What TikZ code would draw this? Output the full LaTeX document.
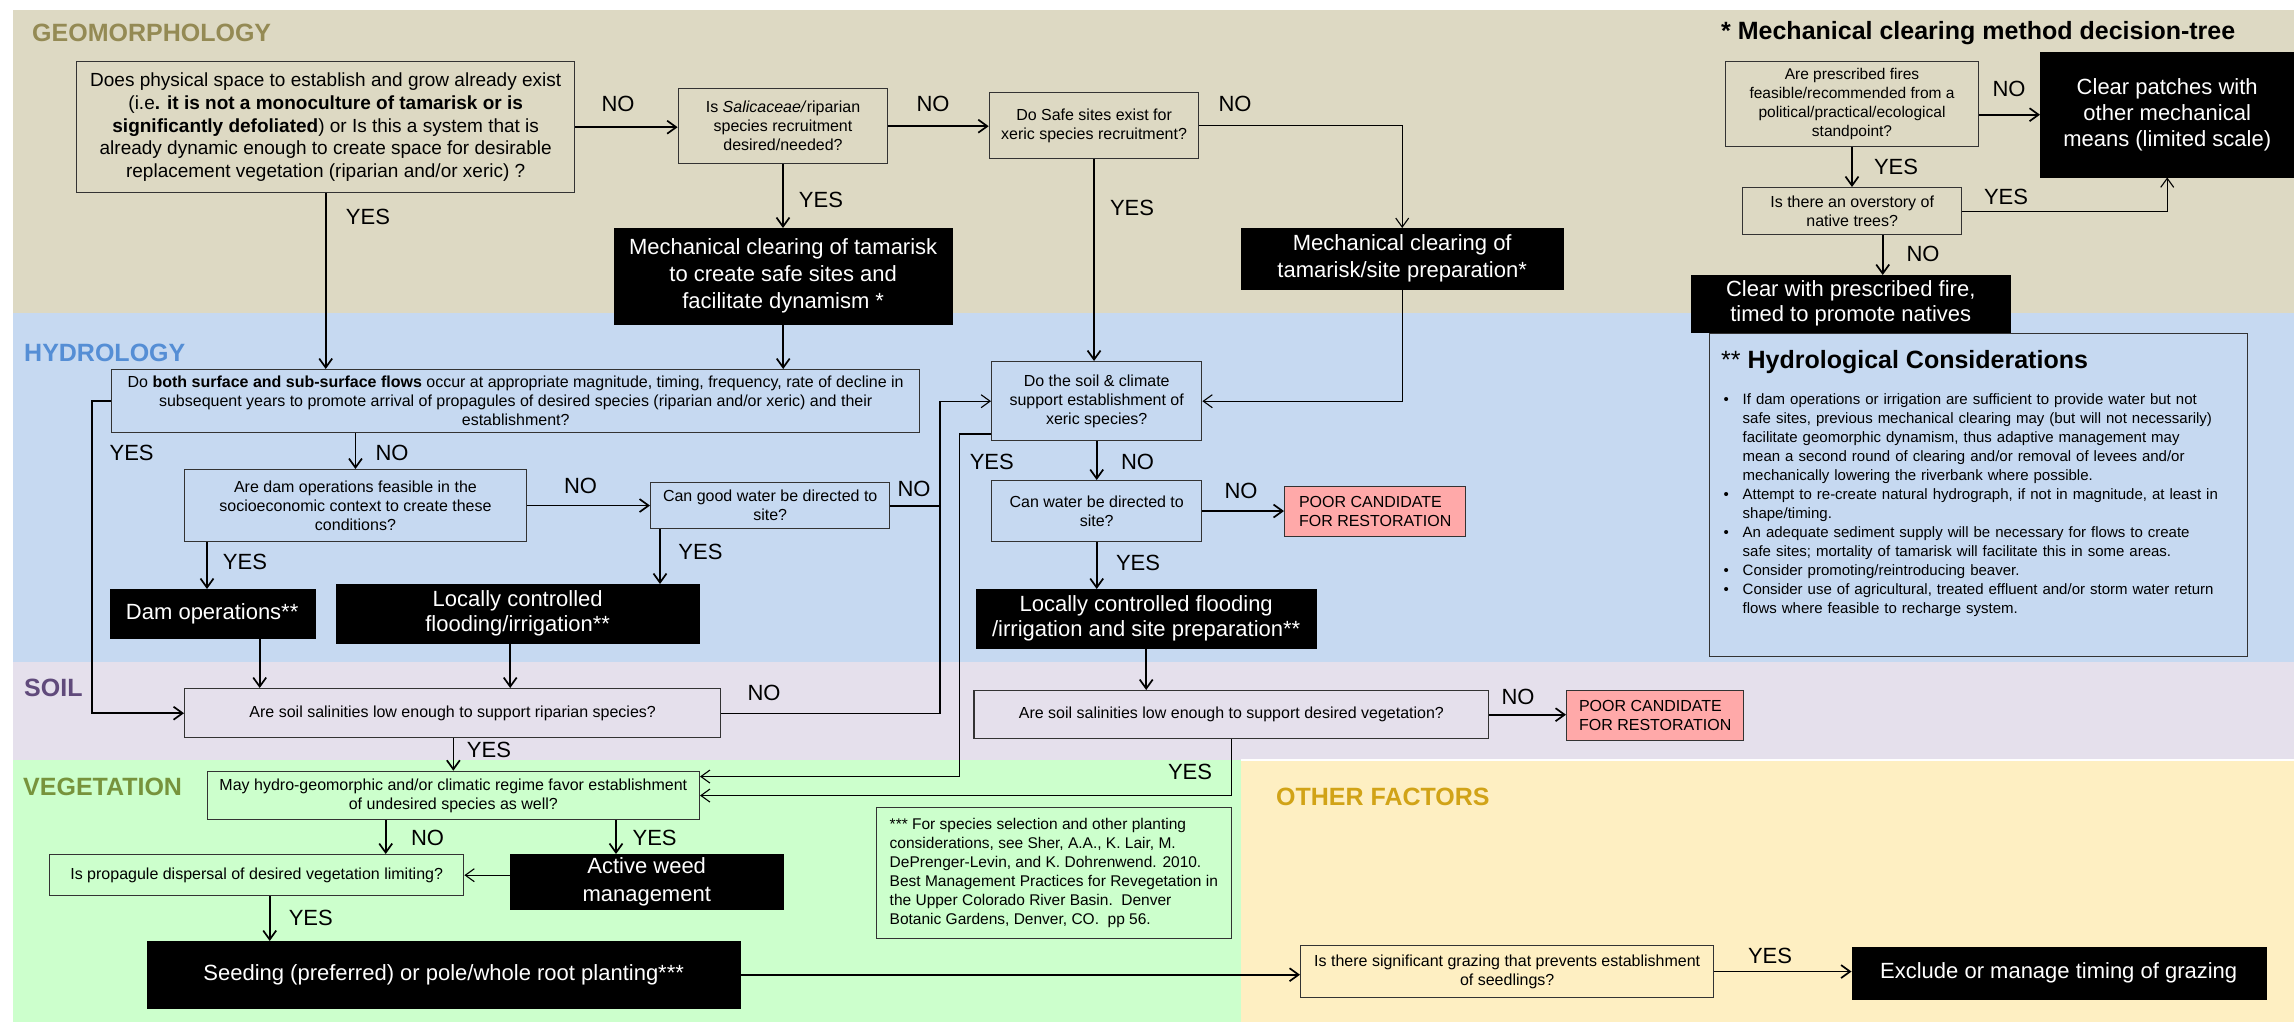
\documentclass[tikz,border=0pt]{standalone}
\usepackage{fontspec}
\setmainfont{Liberation Sans}
\usetikzlibrary{arrows.meta,calc}
\newcommand\fsz[2]{\fontsize{#1}{#2}\selectfont}
\definecolor{geoc}{HTML}{DDD9C3}
\definecolor{hydc}{HTML}{C6D9F1}
\definecolor{soilc}{HTML}{E5E0EC}
\definecolor{vegc}{HTML}{CCFFCC}
\definecolor{othc}{HTML}{FEEFC2}
\definecolor{pinkc}{HTML}{FFA9A9}
\definecolor{geot}{HTML}{948A54}
\definecolor{hydt}{HTML}{558ED5}
\definecolor{soilt}{HTML}{604A7B}
\definecolor{vegt}{HTML}{77933C}
\definecolor{otht}{HTML}{D1A317}
\newcommand\hcb{\makebox[19pt][l]{•}}
\newcommand\hci{\hspace*{19pt}}
\begin{document}
\begin{tikzpicture}[x=1pt,y=-1pt,
 qbox/.style={draw=black!80, line width=1.4pt, inner sep=2pt, align=center, anchor=north west, font=\fsz{16}{19}},
 blk/.style={fill=black, draw=black, text=white, inner sep=2pt, align=center, anchor=north west, font=\fsz{22}{27}},
 poor/.style={qbox, fill=pinkc, align=left, font=\fsz{16}{18.5}},
 arr/.style={line width=1.7pt, -{Straight Barb[length=9pt,width=13pt]}},
 ln/.style={line width=1.7pt},
 thin/.style={line width=1.1pt},
 lab/.style={font=\fsz{22}{26}, inner sep=0pt},
 sec/.style={font=\bfseries\fsz{25}{30}, anchor=west, inner sep=0pt},
]
\useasboundingbox (0,0) rectangle (2294,1022);
% bands
\fill[geoc] (13,10) rectangle (2294,313);
\fill[hydc] (13,313) rectangle (2294,662);
\fill[soilc] (13,662) rectangle (2294,760);
\fill[vegc] (13,760) rectangle (1241,1022);
\fill[othc] (1241,760) rectangle (2294,1022);
\draw[white, line width=1.5pt] (1241,760) -- (2294,760);
% section labels
\node[sec, text=geot] (sgeo) at (32,33) {GEOMORPHOLOGY};
\node[sec, text=hydt] (shyd) at (24,353) {HYDROLOGY};
\node[sec, text=soilt] (ssoil) at (24,688) {SOIL};
\node[sec, text=vegt] (sveg) at (23,787) {VEGETATION};
\node[sec, text=otht] (soth) at (1276,797) {OTHER FACTORS};
\node[sec] (smech) at (1721,33) {* Mechanical clearing method decision-tree};
% geomorphology
\node[qbox, minimum width=498pt, minimum height=131pt, font=\fsz{19}{22.75}] (q1) at (76,61) {Does physical space to establish and grow already exist\\(i.e\textbf{. it is not a monoculture of tamarisk or is}\\\textbf{significantly defoliated}) or Is this a system that is\\already dynamic enough to create space for desirable\\replacement vegetation (riparian and/or xeric) ?};
\node[qbox, minimum width=209.4pt, minimum height=75pt] (q2) at (677.6,88) {Is \textit{Salicaceae/}riparian\\species recruitment\\desired/needed?};
\node[qbox, minimum width=209.3pt, minimum height=66pt] (q3) at (988.7,92) {Do Safe sites exist for\\xeric species recruitment?};
\node[blk, minimum width=338pt, minimum height=96pt] (m1) at (614,228) {Mechanical clearing of tamarisk\\to create safe sites and\\facilitate dynamism *};
\node[blk, minimum width=322pt, minimum height=61pt] (m2) at (1241,228) {Mechanical clearing of\\tamarisk/site preparation*};
% mech tree
\node[qbox, minimum width=253.4pt, minimum height=85pt, font=\fsz{15.5}{19}] (t1) at (1724.6,61) {Are prescribed fires\\feasible/recommended from a\\political/practical/ecological\\standpoint?};
\node[blk, minimum width=254pt, minimum height=125pt, font=\fsz{22}{26}] (c1) at (2040,52) {Clear patches with\\other mechanical\\means (limited scale)};
\node[qbox, minimum width=219pt, minimum height=47pt] (t2) at (1742,187) {Is there an overstory of\\native trees?};
% hydrological considerations
\node[draw=black!80, line width=1.4pt, anchor=north west, minimum width=538pt, minimum height=323pt, inner sep=0pt] (hc) at (1709,333) {};
\node[blk, minimum width=319pt, minimum height=57pt, font=\fsz{22}{25}] (c2) at (1691,275) {Clear with prescribed fire,\\timed to promote natives};
\node[anchor=west, inner sep=0pt, font=\fsz{25}{30}] (hct) at (1721,362) {** \textbf{Hydrological Considerations}};
\node[anchor=north west, inner sep=0pt, text width=525pt, font=\fsz{15}{19}, align=left] (hcl) at (1723.5,393) {%
\hcb If dam operations or irrigation are sufficient to provide water but not\\
\hci safe sites, previous mechanical clearing may (but will not necessarily)\\
\hci facilitate geomorphic dynamism, thus adaptive management may\\
\hci mean a second round of clearing and/or removal of levees and/or\\
\hci mechanically lowering the riverbank where possible.\\
\hcb Attempt to re-create natural hydrograph, if not in magnitude, at least in\\
\hci shape/timing.\\
\hcb An adequate sediment supply will be necessary for flows to create\\
\hci safe sites; mortality of tamarisk will facilitate this in some areas.\\
\hcb Consider promoting/reintroducing beaver.\\
\hcb Consider use of agricultural, treated effluent and/or storm water return\\
\hci flows where feasible to recharge system.};
% hydrology
\node[qbox, minimum width=808pt, minimum height=63pt] (q4) at (111,369) {Do \textbf{both surface and sub-surface flows} occur at appropriate magnitude, timing, frequency, rate of decline in\\subsequent years to promote arrival of propagules of desired species (riparian and/or xeric) and their\\establishment?};
\node[qbox, minimum width=210pt, minimum height=79pt] (q5) at (991,361) {Do the soil \& climate\\support establishment of\\xeric species?};
\node[qbox, minimum width=341.5pt, minimum height=71.7pt] (q7) at (184,469) {Are dam operations feasible in the\\socioeconomic context to create these\\conditions?};
\node[qbox, minimum width=239pt, minimum height=46pt] (q8) at (650,482) {Can good water be directed to\\site?};
\node[qbox, minimum width=210pt, minimum height=60.7pt] (q10) at (991,480) {Can water be directed to\\site?};
\node[poor, minimum width=181pt, minimum height=50pt] (p1) at (1284,486) {POOR CANDIDATE\\FOR RESTORATION};
\node[blk, minimum width=205pt, minimum height=49pt] (d) at (109.5,589) {Dam operations**};
\node[blk, minimum width=363pt, minimum height=59pt, font=\fsz{22}{25}] (l1) at (336,584) {Locally controlled\\flooding/irrigation**};
\node[blk, minimum width=340pt, minimum height=59pt, font=\fsz{22}{25}] (l2) at (976,589) {Locally controlled flooding\\/irrigation and site preparation**};
% soil
\node[qbox, minimum width=536pt, minimum height=49pt] (q6) at (184,688) {Are soil salinities low enough to support riparian species?};
\node[qbox, minimum width=514.6pt, minimum height=48pt] (q11) at (973.4,690) {Are soil salinities low enough to support desired vegetation?};
\node[poor, minimum width=177pt, minimum height=50pt] (p2) at (1566,690) {POOR CANDIDATE\\FOR RESTORATION};
% vegetation
\node[qbox, minimum width=491.9pt, minimum height=48.3pt] (q9) at (206.7,770.7) {May hydro-geomorphic and/or climatic regime favor establishment\\of undesired species as well?};
\node[blk, minimum width=273pt, minimum height=55pt, font=\fsz{22}{28}] (aw) at (510,854) {Active weed\\management};
\node[qbox, minimum width=414pt, minimum height=41pt] (q12) at (49,854) {Is propagule dispersal of desired vegetation limiting?};
\node[blk, minimum width=593pt, minimum height=67pt] (s) at (147,941) {Seeding (preferred) or pole/whole root planting***};
\node[qbox, line width=1.1pt, minimum width=355pt, minimum height=131pt, align=left, font=\fsz{15.5}{19}] (ref) at (875.8,807) {*** For species selection and other planting\\considerations, see Sher, A.A., K. Lair, M.\\DePrenger-Levin, and K. Dohrenwend. 2010.\\Best Management Practices for Revegetation in\\the Upper Colorado River Basin.\ \ Denver\\Botanic Gardens, Denver, CO.\ \ pp 56.};
\node[qbox, minimum width=413pt, minimum height=51.7pt] (g) at (1300,945) {Is there significant grazing that prevents establishment\\of seedlings?};
\node[blk, minimum width=414pt, minimum height=52.3pt] (e) at (1851.5,946.7) {Exclude or manage timing of grazing};
% connectors geomorphology
\draw[arr] (q1.east) -- (q1.east -| q2.west);
\draw[arr] (q2.east) -- (q2.east -| q3.west);
\draw[arr, thin] (q3.east) -| (m2.north);
\draw[arr] (q2.south) -- (q2.south |- m1.north);
\draw[arr] (q3.south) -- (q3.south |- q5.north);
\draw[arr, thin] (m2.south) |- (q5.east);
\draw[arr] (q1.south) -- (q1.south |- q4.north);
\draw[arr] (m1.south) -- (m1.south |- q4.north);
% mech tree connectors
\draw[arr] (c1.west -| t1.east) -- (c1.west);
\draw[arr] (t1.south) -- (t1.south |- t2.north);
\draw[arr, thin] (t2.east) -| (c1.south);
\draw[arr] ([xshift=30.5pt]t2.south) -- ([xshift=30.5pt]t2.south |- c2.north);
% hydrology connectors
\draw[arr] (q4.west) -- ++(-19,0) |- (q6.west);
\draw[arr] (q7.north |- q4.south) -- (q7.north);
\draw[arr] (q7.east) -- (q7.east -| q8.west);
\coordinate (j1) at (940,505);
\draw[ln] (q8.east) -- (q8.east -| j1);
\draw[arr, thin] (q6.east) -- (q6.east -| j1) |- (q5.west);
\coordinate (j2) at (959.6,434);
\draw[arr, thin] (q5.west |- j2) -- (j2) |- ([yshift=19pt]q9.east);
\draw[arr] (q5.south) -- (q10.north);
\draw[arr] (q10.east) -- (q10.east -| p1.west);
\draw[arr] (q10.south) -- (q10.south |- l2.north);
\draw[arr] (l2.south) -- (l2.south |- q11.north);
\draw[arr] ([xshift=23pt]q7.south west) -- ([xshift=23pt]q7.south west |- d.north);
\draw[arr] ([xshift=47.5pt]d.south) -- ([xshift=47.5pt]d.south |- q6.north);
\draw[arr] ([xshift=10pt]q8.south west) -- ([xshift=10pt]q8.south west |- l1.north);
\draw[arr] ([xshift=-7.5pt]l1.south) -- ([xshift=-7.5pt]l1.south |- q6.north);
% soil / vegetation connectors
\draw[arr] (q9.north |- q6.south) -- (q9.north);
\draw[arr, thin] (q11.south) |- (q9.east);
\draw[arr] (q11.east) -- (q11.east -| p2.west);
\draw[arr] ([xshift=179pt]q9.south west) -- ([xshift=179pt]q9.south west |- q12.north);
\draw[arr] ([xshift=-84pt]q9.south east) -- ([xshift=-84pt]q9.south east |- aw.north);
\draw[arr, thin] (aw.west |- q12.east) -- (q12.east);
\draw[arr] ([xshift=13pt]q12.south) -- ([xshift=13pt]q12.south |- s.north);
\draw[arr] (s.east) -- (s.east -| g.west);
\draw[arr] (g.east) -- (g.east -| e.west);
% labels
\node[lab] (n1) at (618,104) {NO};
\node[lab] (n2) at (933,104) {NO};
\node[lab] (n3) at (1235,104) {NO};
\node[lab] (y1) at (821,200) {YES};
\node[lab] (y2) at (1132,208) {YES};
\node[lab] (y3) at (368,217) {YES};
\node[lab] (n4) at (2009,89) {NO};
\node[lab] (y4) at (1896,167) {YES};
\node[lab] (y5) at (2006,197) {YES};
\node[lab] (n5) at (1923,254) {NO};
\node[lab] (y6) at (131.6,453) {YES};
\node[lab] (n6) at (392,453) {NO};
\node[lab] (n7) at (580.6,486) {NO};
\node[lab] (y7) at (245,562) {YES};
\node[lab] (y8) at (700.5,552) {YES};
\node[lab] (n8) at (914,489) {NO};
\node[lab] (y9) at (991.8,462) {YES};
\node[lab] (n9) at (1137.6,462) {NO};
\node[lab] (y10) at (1138,563) {YES};
\node[lab] (n10) at (1241,491) {NO};
\node[lab] (n11) at (764,693) {NO};
\node[lab] (y11) at (489,749.7) {YES};
\node[lab] (y12) at (1190,771.7) {YES};
\node[lab] (n12) at (1518,696.7) {NO};
\node[lab] (n13) at (427.5,837.7) {NO};
\node[lab] (y13) at (654.6,837.7) {YES};
\node[lab] (y14) at (310.8,918) {YES};
\node[lab] (y15) at (1770,956) {YES};
\end{tikzpicture}
\end{document}
